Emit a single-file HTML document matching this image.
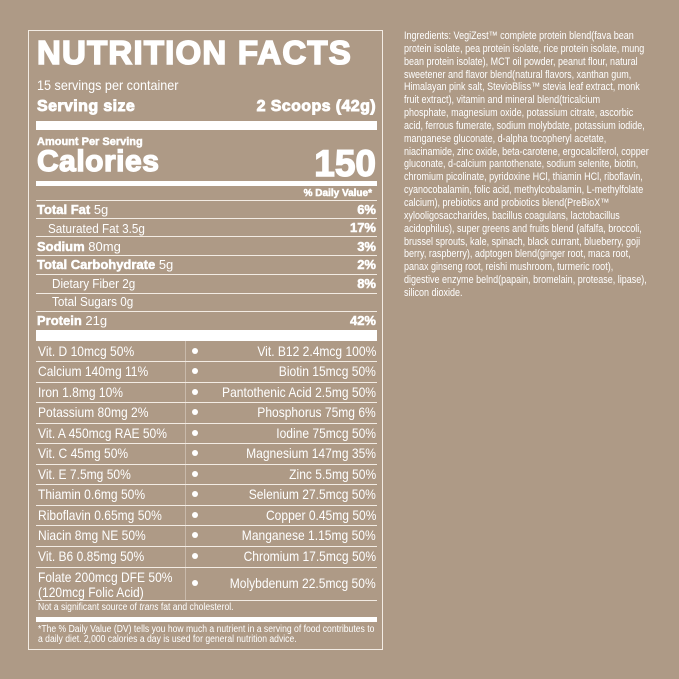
<!DOCTYPE html>
<html><head><meta charset="utf-8"><style>
*{margin:0;padding:0;box-sizing:border-box}
body{width:679px;height:679px;background:#ae9a86;position:relative;overflow:hidden;font-family:"Liberation Sans",Arial,sans-serif;color:#fff}
.a{position:absolute;white-space:nowrap;line-height:1}
.b{font-weight:bold;-webkit-text-stroke:0.5px #fff}
.hl{position:absolute;left:36px;width:341px;height:1px;background:#f3ece4}
.bar{position:absolute;left:36px;width:341px;background:#fff}
.L{left:38px;transform-origin:left center;transform:scaleX(.86)}
.R{right:303px;transform-origin:right center;transform:scaleX(.86)}
.dot{position:absolute;left:192px;width:6px;height:6px;border-radius:50%;background:#fff}
#ing{position:absolute;left:404px;top:30px;font-size:10.6px;line-height:12.85px;transform-origin:left top;transform:scaleX(.85);white-space:nowrap}
</style></head><body>
<div style="position:absolute;left:28px;top:30px;width:355px;height:620px;border:1.5px solid #f3ece4"></div>
<div class="a b" style="left:37px;top:36px;font-size:33px;font-weight:900;-webkit-text-stroke:1.6px #fff;letter-spacing:1.2px">NUTRITION FACTS</div>
<div class="a" style="left:37px;top:78px;font-size:14px;transform-origin:left;transform:scaleX(.9)">15 servings per container</div>
<div class="a b" style="left:37px;top:99px;font-size:16px;-webkit-text-stroke:.9px #fff;letter-spacing:.4px">Serving size</div>
<div class="a b" style="right:303px;top:99px;font-size:16px;-webkit-text-stroke:.9px #fff;letter-spacing:.4px">2 Scoops (42g)</div>
<div class="bar" style="top:121px;height:9px"></div>
<div class="a b" style="left:37px;top:137px;font-size:11px">Amount Per Serving</div>
<div class="a b" style="left:37px;top:147px;font-size:30px;-webkit-text-stroke:1.4px #fff;letter-spacing:.5px">Calories</div>
<div class="a b" style="right:303px;top:145px;font-size:37px;-webkit-text-stroke:1.4px #fff">150</div>
<div class="bar" style="top:181px;height:5px"></div>
<div class="a b" style="right:307px;top:189px;font-size:10px">% Daily Value*</div>
<div class="hl" style="top:200px"></div>
<div class="hl" style="top:218px"></div>
<div class="hl" style="top:236px"></div>
<div class="hl" style="top:255px"></div>
<div class="hl" style="top:274px"></div>
<div class="hl" style="top:293px"></div>
<div class="hl" style="top:311px"></div>
<div class="a" style="left:37px;top:203px;font-size:13px"><b class="b">Total Fat</b> 5g</div>
<div class="a" style="left:48px;top:222px;font-size:13px;transform-origin:left;transform:scaleX(.9)">Saturated Fat 3.5g</div>
<div class="a" style="left:37px;top:240px;font-size:13px"><b class="b">Sodium</b> 80mg</div>
<div class="a" style="left:37px;top:258px;font-size:13px"><b class="b">Total Carbohydrate</b> 5g</div>
<div class="a" style="left:52px;top:277px;font-size:13px;transform-origin:left;transform:scaleX(.9)">Dietary Fiber 2g</div>
<div class="a" style="left:52px;top:295px;font-size:13px;transform-origin:left;transform:scaleX(.9)">Total Sugars 0g</div>
<div class="a" style="left:37px;top:314px;font-size:13px"><b class="b">Protein</b> 21g</div>
<div class="a b" style="right:303px;top:203px;font-size:13px">6%</div>
<div class="a b" style="right:303px;top:221px;font-size:13px">17%</div>
<div class="a b" style="right:303px;top:240px;font-size:13px">3%</div>
<div class="a b" style="right:303px;top:258px;font-size:13px">2%</div>
<div class="a b" style="right:303px;top:277px;font-size:13px">8%</div>
<div class="a b" style="right:303px;top:314px;font-size:13px">42%</div>
<div class="bar" style="top:330px;height:11px"></div>
<div style="position:absolute;left:185px;top:341px;width:1px;height:259px;background:#c9baab"></div>
<div class="hl" style="top:361px"></div><div class="hl" style="top:382px"></div><div class="hl" style="top:402px"></div><div class="hl" style="top:423px"></div><div class="hl" style="top:443px"></div><div class="hl" style="top:464px"></div><div class="hl" style="top:484px"></div><div class="hl" style="top:505px"></div><div class="hl" style="top:525px"></div><div class="hl" style="top:546px"></div><div class="hl" style="top:567px"></div><div class="hl" style="top:600px"></div>
<div class="a L" style="top:344px;font-size:14px">Vit. D 10mcg 50%</div><div class="dot" style="top:348px"></div><div class="a R" style="top:344px;font-size:14px">Vit. B12 2.4mcg 100%</div>
<div class="a L" style="top:364px;font-size:14px">Calcium 140mg 11%</div><div class="dot" style="top:368px"></div><div class="a R" style="top:364px;font-size:14px">Biotin 15mcg 50%</div>
<div class="a L" style="top:385px;font-size:14px">Iron 1.8mg 10%</div><div class="dot" style="top:389px"></div><div class="a R" style="top:385px;font-size:14px">Pantothenic Acid 2.5mg 50%</div>
<div class="a L" style="top:405px;font-size:14px">Potassium 80mg 2%</div><div class="dot" style="top:409px"></div><div class="a R" style="top:405px;font-size:14px">Phosphorus 75mg 6%</div>
<div class="a L" style="top:426px;font-size:14px">Vit. A 450mcg RAE 50%</div><div class="dot" style="top:430px"></div><div class="a R" style="top:426px;font-size:14px">Iodine 75mcg 50%</div>
<div class="a L" style="top:446px;font-size:14px">Vit. C 45mg 50%</div><div class="dot" style="top:450px"></div><div class="a R" style="top:446px;font-size:14px">Magnesium 147mg 35%</div>
<div class="a L" style="top:467px;font-size:14px">Vit. E 7.5mg 50%</div><div class="dot" style="top:471px"></div><div class="a R" style="top:467px;font-size:14px">Zinc 5.5mg 50%</div>
<div class="a L" style="top:487px;font-size:14px">Thiamin 0.6mg 50%</div><div class="dot" style="top:491px"></div><div class="a R" style="top:487px;font-size:14px">Selenium 27.5mcg 50%</div>
<div class="a L" style="top:508px;font-size:14px">Riboflavin 0.65mg 50%</div><div class="dot" style="top:512px"></div><div class="a R" style="top:508px;font-size:14px">Copper 0.45mg 50%</div>
<div class="a L" style="top:528px;font-size:14px">Niacin 8mg NE 50%</div><div class="dot" style="top:532px"></div><div class="a R" style="top:528px;font-size:14px">Manganese 1.15mg 50%</div>
<div class="a L" style="top:549px;font-size:14px">Vit. B6 0.85mg 50%</div><div class="dot" style="top:553px"></div><div class="a R" style="top:549px;font-size:14px">Chromium 17.5mcg 50%</div>
<div class="a L" style="top:570px;font-size:14px;line-height:15px">Folate 200mcg DFE 50%<br>(120mcg Folic Acid)</div><div class="dot" style="top:580px"></div><div class="a R" style="top:576px;font-size:14px">Molybdenum 22.5mcg 50%</div>
<div class="a" style="left:38px;top:603px;font-size:10px;transform-origin:left;transform:scaleX(.86)">Not a significant source of <i>trans</i> fat and cholesterol.</div>
<div class="bar" style="top:617px;height:5px"></div>
<div class="a" style="left:38px;top:625px;font-size:10px;line-height:10px;transform-origin:left;transform:scaleX(.86)">*The % Daily Value (DV) tells you how much a nutrient in a serving of food contributes to<br>a daily diet. 2,000 calories a day is used for general nutrition advice.</div>
<div id="ing">Ingredients: VegiZest™ complete protein blend(fava bean<br>protein isolate, pea protein isolate, rice protein isolate, mung<br>bean protein isolate), MCT oil powder, peanut flour, natural<br>sweetener and flavor blend(natural flavors, xanthan gum,<br>Himalayan pink salt, StevioBliss™ stevia leaf extract, monk<br>fruit extract), vitamin and mineral blend(tricalcium<br>phosphate, magnesium oxide, potassium citrate, ascorbic<br>acid, ferrous fumerate, sodium molybdate, potassium iodide,<br>manganese gluconate, d-alpha tocopheryl acetate,<br>niacinamide, zinc oxide, beta-carotene, ergocalciferol, copper<br>gluconate, d-calcium pantothenate, sodium selenite, biotin,<br>chromium picolinate, pyridoxine HCl, thiamin HCl, riboflavin,<br>cyanocobalamin, folic acid, methylcobalamin, L-methylfolate<br>calcium), prebiotics and probiotics blend(PreBioX™<br>xylooligosaccharides, bacillus coagulans, lactobacillus<br>acidophilus), super greens and fruits blend (alfalfa, broccoli,<br>brussel sprouts, kale, spinach, black currant, blueberry, goji<br>berry, raspberry), adptogen blend(ginger root, maca root,<br>panax ginseng root, reishi mushroom, turmeric root),<br>digestive enzyme belnd(papain, bromelain, protease, lipase),<br>silicon dioxide.</div>
</body></html>
